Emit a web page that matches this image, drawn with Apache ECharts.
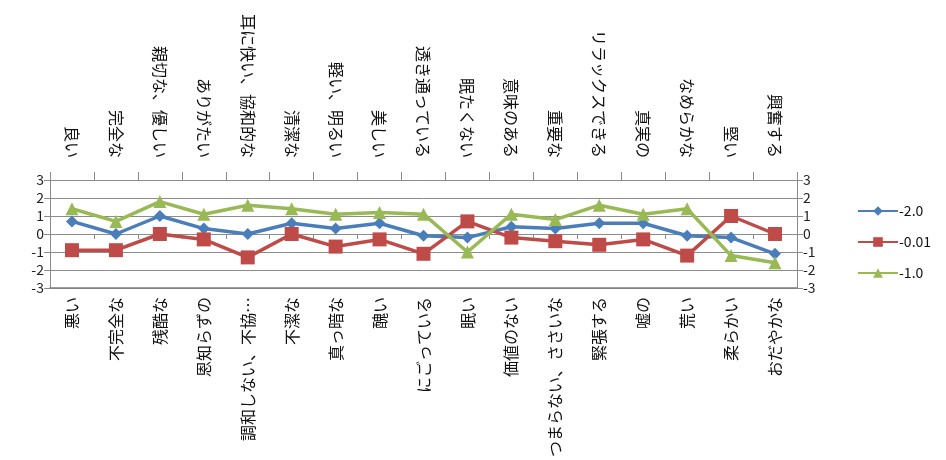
<!DOCTYPE html>
<html>
<head>
<meta charset="utf-8">
<script src="https://cdn.jsdelivr.net/npm/echarts@6/dist/echarts.min.js"></script>
<style>
  html, body { margin: 0; padding: 0; background: #fff; }
  #chart { width: 946px; height: 460px; }
</style>
</head>
<body>
<div id="chart"></div>
<script>
// Semantic differential pairs: positive pole (top) and negative pole (bottom)
const positiveTerms = ['良い', '完全な', '親切な、優しい', 'ありがたい', '耳に快い、協和的な', '清潔な', '軽い、明るい', '美しい', '透き通っている',
  '眠たくない', '意味のある', '重要な', 'リラックスできる', '真実の', 'なめらかな', '堅い', '興奮する'];
const negativeTerms = ['悪い', '不完全な', '残酷な', '恩知らずの', '調和しない、不協…', '不潔な', '真っ暗な', '醜い', 'にごっている',
  '眠い', '価値のない', 'つまらない、ささいな', '緊張する', '嘘の', '荒い', '柔らかい', 'おだやかな'];

// Mean ratings per condition
const seriesNames = ['-2.0', '-0.01', '-1.0'];
const valuesA = [0.7, 0.0, 1.0, 0.3, 0.0, 0.6, 0.3, 0.6, -0.1, -0.2, 0.4, 0.3, 0.6, 0.6, -0.1, -0.2, -1.1];
const valuesB = [-0.9, -0.9, 0.0, -0.3, -1.3, 0.0, -0.7, -0.3, -1.1, 0.7, -0.2, -0.4, -0.6, -0.3, -1.2, 1.0, 0.0];
const valuesC = [1.4, 0.7, 1.8, 1.1, 1.6, 1.4, 1.1, 1.2, 1.1, -1.0, 1.1, 0.8, 1.6, 1.1, 1.4, -1.2, -1.6];

const FONT = '"Noto Sans CJK JP", "Noto Sans", sans-serif';
const gridColor = '#8c8c8c';

const chart = echarts.init(document.getElementById('chart'));

const valueAxis = (pos) => ({
  type: 'value',
  position: pos,
  min: -3,
  max: 3,
  interval: 1,
  axisLine: { show: true, lineStyle: { color: gridColor, width: 1 } },
  axisTick: { show: true, length: 6, lineStyle: { color: gridColor } },
  axisLabel: { color: '#222', fontSize: 14, fontFamily: FONT, margin: 6 },
  splitLine: { show: pos === 'left', lineStyle: { color: gridColor, width: 1 } }
});

const makeSeries = (name, data, color, symbol, size) => ({
  name: name,
  type: 'line',
  data: data,
  symbol: symbol,
  symbolSize: size,
  lineStyle: { color: color, width: 3.5 },
  itemStyle: { color: color },
  z: 3
});

chart.setOption({
  animation: false,
  textStyle: { fontFamily: FONT },
  grid: { left: 50, right: 149, top: 180, bottom: 169 },
  legend: {
    orient: 'vertical',
    left: 852,
    top: 199,
    itemWidth: 40,
    itemHeight: 12,
    itemGap: 17,
    textStyle: { color: '#111', fontSize: 14, fontFamily: FONT, padding: [0, 0, 0, -4] },
    data: seriesNames
  },
  xAxis: [
    {
      type: 'category',
      position: 'bottom',
      data: negativeTerms,
      boundaryGap: true,
      axisLine: { show: true, onZero: false, lineStyle: { color: '#7f7f7f', width: 1.5 } },
      axisTick: { show: false },
      axisLabel: { rotate: 90, interval: 0, color: '#111', fontSize: 16, fontFamily: FONT, margin: 9 }
    },
    {
      type: 'category',
      position: 'top',
      data: positiveTerms,
      boundaryGap: true,
      axisLine: { show: true, onZero: false, lineStyle: { color: gridColor, width: 1 } },
      axisTick: { show: true, length: 8, interval: 0, lineStyle: { color: gridColor } },
      axisLabel: { rotate: 90, interval: 0, color: '#111', fontSize: 16, fontFamily: FONT, margin: 22 }
    },
    {
      type: 'category',
      position: 'bottom',
      data: negativeTerms,
      boundaryGap: true,
      axisLine: { show: false, onZero: true },
      axisTick: { show: true, length: 5, interval: 0, lineStyle: { color: gridColor } },
      axisLabel: { show: false }
    }
  ],
  yAxis: [valueAxis('left'), valueAxis('right')],
  series: [
    makeSeries(seriesNames[0], valuesA, '#4a7ebb', 'diamond', 12),
    makeSeries(seriesNames[1], valuesB, '#be4b48', 'rect', 14),
    makeSeries(seriesNames[2], valuesC, '#98b954', 'triangle', 13)
  ]
});
</script>
</body>
</html>
